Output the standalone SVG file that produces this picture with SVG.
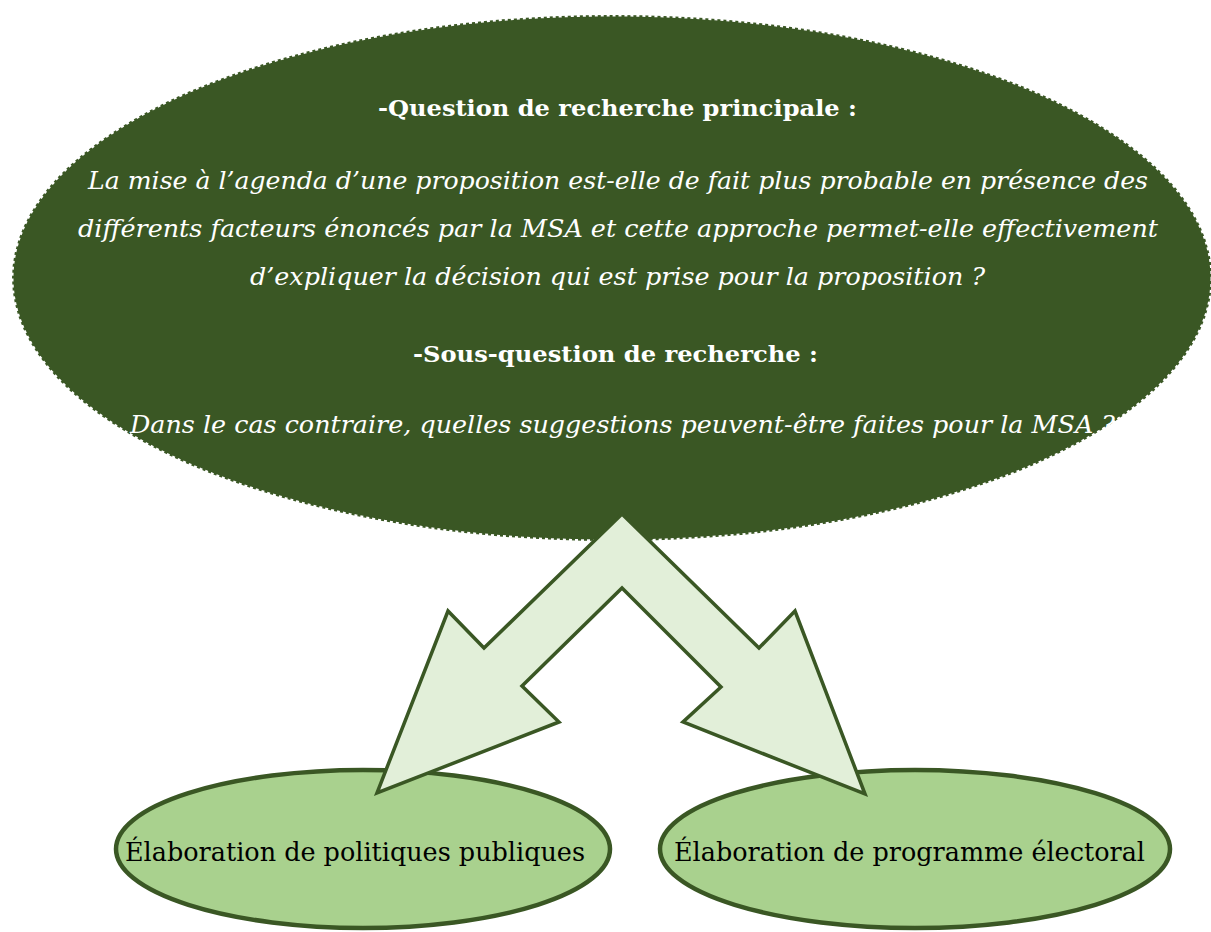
<svg xmlns="http://www.w3.org/2000/svg" width="1211" height="932" viewBox="0 0 1211 932">
  <style>
    .main { fill: #3a5724; stroke: #ffffff; stroke-width: 3; stroke-dasharray: 3 3; }
    .sub { fill: #a9d18e; stroke: #3a5724; stroke-width: 4.5; }
    .arrow { fill: #e2efd9; stroke: #3a5724; stroke-width: 3.5; stroke-linejoin: miter; }
    .tb { font-family: "DejaVu Serif", "Liberation Serif", serif; font-weight: bold; font-size: 22.5px; fill: #ffffff; text-anchor: middle; }
    .ti { font-family: "DejaVu Serif", "Liberation Serif", serif; font-style: italic; font-size: 24.5px; fill: #ffffff; text-anchor: middle; }
    .tn { font-family: "DejaVu Serif", "Liberation Serif", serif; font-size: 26px; fill: #000000; text-anchor: middle; }
  </style>
  <rect width="1211" height="932" fill="#ffffff"/>
  <g id="question">
    <ellipse class="main" cx="612" cy="278" rx="600" ry="263"/>
    <text class="tb" x="617.5" y="116" textLength="479" lengthAdjust="spacingAndGlyphs">-Question de recherche principale :</text>
    <text class="ti" x="618" y="189" textLength="1060" lengthAdjust="spacingAndGlyphs">La mise à l’agenda d’une proposition est-elle de fait plus probable en présence des</text>
    <text class="ti" x="618" y="237" textLength="1080" lengthAdjust="spacingAndGlyphs">différents facteurs énoncés par la MSA et cette approche permet-elle effectivement</text>
    <text class="ti" x="617.5" y="285" textLength="735" lengthAdjust="spacingAndGlyphs">d’expliquer la décision qui est prise pour la proposition ?</text>
    <text class="tb" x="615.5" y="362" textLength="405" lengthAdjust="spacingAndGlyphs">-Sous-question de recherche :</text>
    <text class="ti" x="622.5" y="433" textLength="985" lengthAdjust="spacingAndGlyphs">Dans le cas contraire, quelles suggestions peuvent-être faites pour la MSA ?</text>
  </g>
  <g id="politiques">
    <ellipse class="sub" cx="363" cy="849" rx="247" ry="79"/>
    <text class="tn" x="355" y="861" textLength="460" lengthAdjust="spacingAndGlyphs">Élaboration de politiques publiques</text>
  </g>
  <g id="programme">
    <ellipse class="sub" cx="915" cy="849" rx="255" ry="79"/>
    <text class="tn" x="909.5" y="861" textLength="471" lengthAdjust="spacingAndGlyphs">Élaboration de programme électoral</text>
  </g>
  <g id="connectors">
    <polygon class="arrow" points="622,514 759,648 795,611 865,794 683,722 721,687 622,588 522,686 559,722 377,793 448,611 484,648"/>
  </g>
</svg>
